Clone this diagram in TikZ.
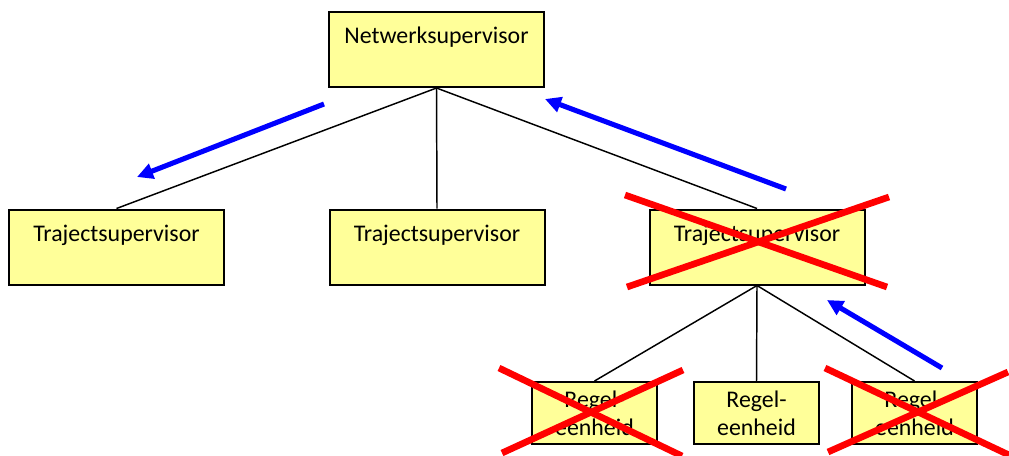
\documentclass[tikz,border=0pt]{standalone}
\usepackage{fontspec}
\setmainfont{Carlito}
\usetikzlibrary{arrows.meta}
\begin{document}
\begin{tikzpicture}[x=0.75pt,y=-0.75pt,
  box/.style={draw=black, line width=1.5pt, fill=boxyellow, inner sep=0pt},
  bigbox/.style={box, minimum width=161.25pt, minimum height=56.25pt},
  smallbox/.style={box, minimum width=93.75pt, minimum height=46.5pt,
    align=center, font=\fontsize{17.9}{21}\selectfont},
  toplabel/.style={anchor=center, yshift=-19.8pt, font=\fontsize{17.9}{21}\selectfont},
  link/.style={draw=black, line width=1.1pt},
  flow/.style={draw=flowblue, line width=3.8pt, -{Triangle[length=12pt,width=11.5pt]}},
  cross/.style={draw=crossred, line width=5pt}]
\definecolor{boxyellow}{HTML}{FFFF99}
\definecolor{flowblue}{HTML}{0000FF}
\definecolor{crossred}{HTML}{FF0000}
\useasboundingbox (0,0) rectangle (1009,455);

% supervisors
\node[bigbox, label={[toplabel]north:Netwerksupervisor}] (net) at (436.5,49.5) {};
\node[bigbox, label={[toplabel]north:Trajectsupervisor}] (tl) at (116.5,247) {};
\node[bigbox, label={[toplabel]north:Trajectsupervisor}] (tm) at (437,247) {};
\node[bigbox, label={[toplabel]north:Trajectsupervisor}] (tr) at (757,247) {};

% control units
\node[smallbox] (rl) at (594.5,413) {Regel-\\eenheid};
\node[smallbox] (rm) at (756.5,413) {Regel-\\eenheid};
\node[smallbox] (rr) at (914.5,413) {Regel-\\eenheid};

% hierarchy
\draw[link] (net.south) -- (tl.north);
\draw[link] (net.south) -- (tm.north);
\draw[link] (net.south) -- (tr.north);
\draw[link] (tr.south) -- (rl.north);
\draw[link] (tr.south) -- (rm.north);
\draw[link] (tr.south) -- (rr.north);

% reporting directions
\coordinate (a1s) at (324,104); \coordinate (a1e) at (137,177);
\coordinate (a2s) at (786,189); \coordinate (a2e) at (545,99);
\coordinate (a3s) at (942,368); \coordinate (a3e) at (827,300);
\draw[flow] (a1s) -- (a1e);
\draw[flow] (a2s) -- (a2e);
\draw[flow] (a3s) -- (a3e);

% failed elements
\coordinate (x1a) at (625,195); \coordinate (x1b) at (887,287);
\coordinate (x1c) at (627,287); \coordinate (x1d) at (889,197);
\draw[cross] (x1a) -- (x1b);
\draw[cross] (x1c) -- (x1d);

\coordinate (x2a) at (499,368); \coordinate (x2b) at (682,456);
\coordinate (x2c) at (502,453); \coordinate (x2d) at (683,370);
\draw[cross] (x2a) -- (x2b);
\draw[cross] (x2c) -- (x2d);

\coordinate (x3a) at (825,368); \coordinate (x3b) at (1009,455);
\coordinate (x3c) at (828,452); \coordinate (x3d) at (1008,372);
\draw[cross] (x3a) -- (x3b);
\draw[cross] (x3c) -- (x3d);
\end{tikzpicture}
\end{document}
